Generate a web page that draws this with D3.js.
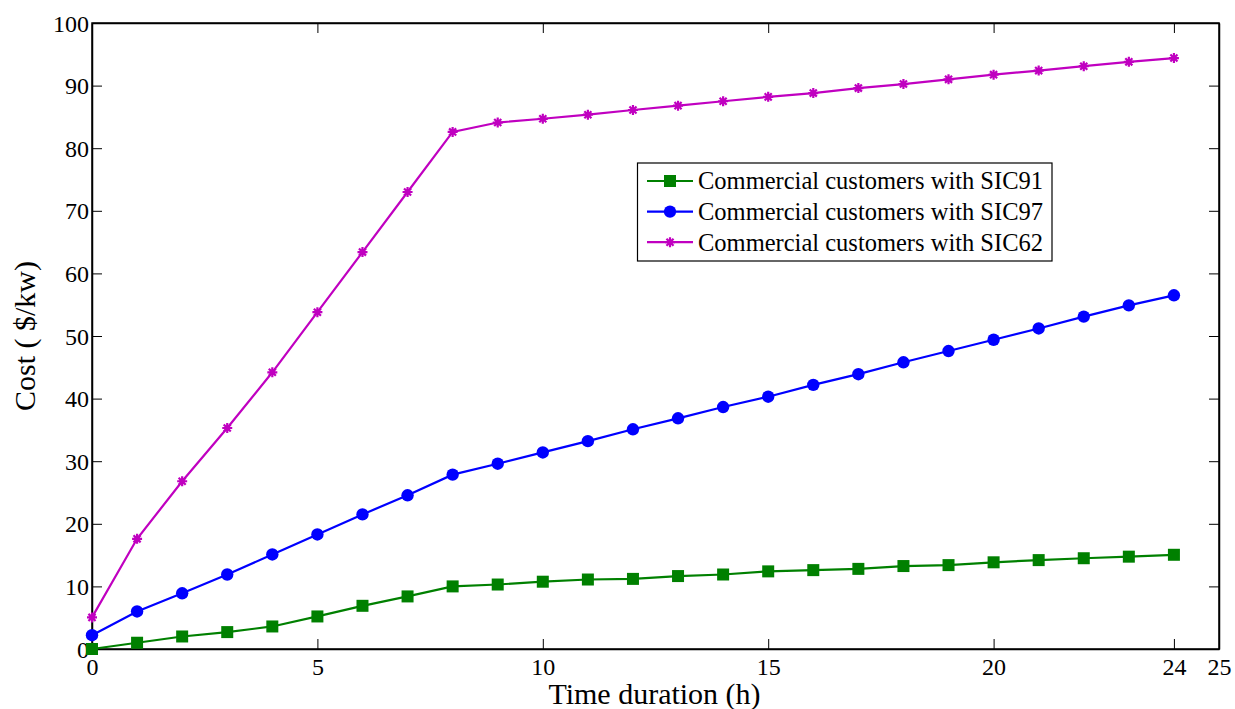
<!DOCTYPE html>
<html>
<head>
<meta charset="utf-8">
<script src="https://cdn.jsdelivr.net/npm/d3@7"></script>
<style>
  html, body { margin: 0; padding: 0; background: #fff; }
  svg { display: block; }
</style>
</head>
<body>
<svg id="chart" width="1235" height="709"></svg>
<script>
// Hours of interruption
const hours = d3.range(0, 25);

// Interruption cost per kW for each customer class
const sic91 = [0, 1.0, 2.0, 2.7, 3.6, 5.2, 6.9, 8.4, 10.0, 10.3, 10.75, 11.1, 11.2,
               11.65, 11.9, 12.4, 12.6, 12.8, 13.25, 13.4, 13.85, 14.2, 14.5, 14.75, 15.05];
const sic97 = [2.2, 6.0, 8.9, 11.9, 15.1, 18.3, 21.5, 24.55, 27.85, 29.6, 31.4, 33.2, 35.1,
               36.85, 38.65, 40.3, 42.2, 43.9, 45.8, 47.6, 49.4, 51.2, 53.1, 54.9, 56.5];
const sic62 = [5.05, 17.6, 26.8, 35.3, 44.2, 53.8, 63.4, 73.0, 82.6, 84.1, 84.7, 85.35, 86.1,
               86.8, 87.5, 88.2, 88.8, 89.6, 90.25, 91.0, 91.75, 92.4, 93.1, 93.8, 94.4];

const seriesNames = ["Commercial customers with SIC91",
                     "Commercial customers with SIC97",
                     "Commercial customers with SIC62"];
const seriesColors = ["#008000", "#0000ff", "#c000c0"];
const seriesMarkers = ["square", "circle", "star"];

const xTicks = [0, 5, 10, 15, 20, 24, 25];
const yTicks = [0, 10, 20, 30, 40, 50, 60, 70, 80, 90, 100];

const xLabel = "Time duration (h)";
const yLabel = "Cost ( $/kw)";

const FONT = "'Liberation Serif', 'Times New Roman', Times, 'DejaVu Serif', serif";

const series = [sic91, sic97, sic62].map((vals, i) => ({
  name: seriesNames[i], color: seriesColors[i], marker: seriesMarkers[i],
  points: hours.map((h, j) => ({ x: h, y: vals[j] }))
}));

const svg = d3.select("#chart");
const margin = { left: 92, right: 16, top: 23, bottom: 60 };
const W = 1235, H = 709;
const x = d3.scaleLinear().domain([0, 25]).range([margin.left, W - margin.right]);
const y = d3.scaleLinear().domain([0, 100]).range([H - margin.bottom, margin.top]);

const tickLen = 10;
const tickFont = "24px";

// Bottom axis (labels plus inward ticks)
const xAxisB = d3.axisBottom(x).tickValues(xTicks).tickFormat(d3.format("d"))
  .tickSizeInner(-tickLen).tickSizeOuter(0).tickPadding(9);
const gxb = svg.append("g").attr("transform", `translate(0,${y(0)})`).call(xAxisB);
gxb.selectAll("text").style("font-size", tickFont).style("font-family", FONT).attr("fill", "#000");

// Top axis, ticks only
const xAxisT = d3.axisTop(x).tickValues(xTicks).tickFormat("")
  .tickSizeInner(-tickLen).tickSizeOuter(0);
svg.append("g").attr("transform", `translate(0,${y(100)})`).call(xAxisT);

// Left axis
const yAxisL = d3.axisLeft(y).tickValues(yTicks).tickFormat(d3.format("d"))
  .tickSizeInner(-tickLen).tickSizeOuter(0).tickPadding(4);
const gyl = svg.append("g").attr("transform", `translate(${x(0)},0)`).call(yAxisL);
gyl.selectAll("text").style("font-size", tickFont).style("font-family", FONT)
  .attr("fill", "#000").attr("x", -3).attr("dy", "0.34em");

// Right axis, ticks only
const yAxisR = d3.axisRight(y).tickValues(yTicks).tickFormat("")
  .tickSizeInner(-tickLen).tickSizeOuter(0);
svg.append("g").attr("transform", `translate(${x(25)},0)`).call(yAxisR);

svg.selectAll(".domain").attr("stroke", "#000").attr("stroke-width", 1.5);
svg.selectAll(".tick line").attr("stroke", "#000").attr("stroke-width", 1);

// Frame box
svg.append("rect")
  .attr("x", x(0)).attr("y", y(100))
  .attr("width", x(25) - x(0)).attr("height", y(0) - y(100))
  .attr("fill", "none").attr("stroke", "#000").attr("stroke-width", 1.5);

// Marker drawing
function drawMarker(g, type, color, cx, cy) {
  if (type === "square") {
    g.append("rect").attr("x", cx - 6).attr("y", cy - 6).attr("width", 12).attr("height", 12)
      .attr("fill", color);
  } else if (type === "circle") {
    g.append("circle").attr("cx", cx).attr("cy", cy).attr("r", 6.2).attr("fill", color);
  } else {
    const r = 5;
    const p = [];
    for (let k = 0; k < 4; k++) {
      const a = k * Math.PI / 4;
      p.push(`M${cx - r * Math.cos(a)},${cy - r * Math.sin(a)}L${cx + r * Math.cos(a)},${cy + r * Math.sin(a)}`);
    }
    g.append("path").attr("d", p.join("")).attr("stroke", color).attr("stroke-width", 2.2)
      .attr("fill", "none");
    g.append("circle").attr("cx", cx).attr("cy", cy).attr("r", 2.5).attr("fill", color);
  }
}

const line = d3.line().x(d => x(d.x)).y(d => y(d.y));

series.forEach(s => {
  const g = svg.append("g");
  g.append("path").datum(s.points).attr("d", line)
    .attr("fill", "none").attr("stroke", s.color).attr("stroke-width", 2.2);
  s.points.forEach(p => drawMarker(g, s.marker, s.color, x(p.x), y(p.y)));
});

// Legend
const lg = svg.append("g");
lg.append("rect").attr("x", 637.5).attr("y", 163).attr("width", 414.5).attr("height", 98)
  .attr("fill", "#fff").attr("stroke", "#000").attr("stroke-width", 1.2);
series.forEach((s, i) => {
  const cy = 181 + i * 30.6;
  lg.append("line").attr("x1", 647).attr("x2", 693).attr("y1", cy).attr("y2", cy)
    .attr("stroke", s.color).attr("stroke-width", 2.2);
  drawMarker(lg, s.marker, s.color, 670, cy);
  lg.append("text").attr("x", 698).attr("y", cy).attr("dy", "0.34em")
    .style("font-size", "24.5px").style("font-family", FONT).text(s.name);
});

// Axis titles
svg.append("text").attr("x", (x(0) + x(25)) / 2 - 1).attr("y", 704)
  .attr("text-anchor", "middle").style("font-size", "30px").style("font-family", FONT)
  .text(xLabel);
svg.append("text").attr("transform", `translate(35,${(y(0) + y(100)) / 2}) rotate(-90)`)
  .attr("text-anchor", "middle").style("font-size", "30px").style("font-family", FONT)
  .text(yLabel);
</script>
</body>
</html>
